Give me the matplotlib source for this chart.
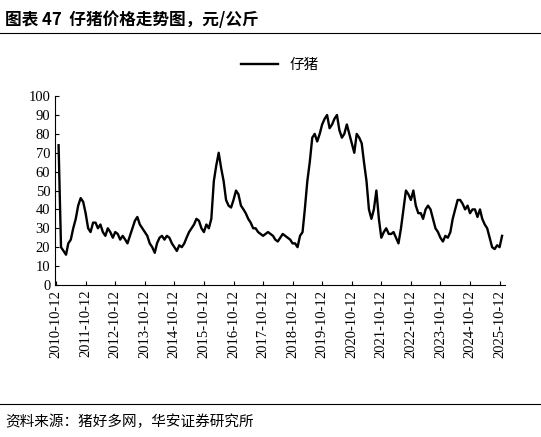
import numpy as np
import pandas as pd
import matplotlib
matplotlib.use('Agg')
import matplotlib.pyplot as plt

plt.rcParams['font.family'] = ['Noto Sans CJK SC', 'DejaVu Sans']

# monthly piglet price, yuan/kg, from 2010-10
price = [74, 20, 18, 16, 22, 24,
         30, 35, 42, 46, 44, 38, 30, 28, 33,
         33, 30, 32, 28, 26, 30, 28, 25, 28, 27, 24, 26,
         24, 22, 26, 30, 34, 36, 32, 30, 28, 26, 22, 20,
         17, 22, 25, 26, 24, 26, 25, 22, 20, 18, 21, 20,
         22, 25, 28, 30, 32, 35, 34, 30, 28, 32, 30, 35,
         55, 63, 70, 62, 55, 45, 42, 41, 45, 50, 48, 42,
         40, 38, 35, 33, 30, 30, 28, 27, 26, 27, 28, 27,
         26, 24, 23, 25, 27, 26, 25, 24, 22, 22, 20, 26,
         28, 40, 55, 65, 78, 80, 76, 80, 85, 88, 90, 83,
         85, 88, 90, 82, 78, 80, 85, 80, 75, 70, 80, 78,
         75, 65, 55, 40, 35, 40, 50, 35, 25, 28, 30, 27,
         27, 28, 25, 22, 30, 40, 50, 48, 45, 50, 42, 38,
         38, 35, 40, 42, 40, 35, 30, 28, 25, 23, 26, 25,
         28, 35, 40, 45, 45, 43, 40, 42, 38, 40, 40, 36,
         40, 35, 32, 30, 25, 20, 19, 21, 20, 26]
dates = pd.date_range('2010-10-12', periods=len(price), freq='MS') + pd.Timedelta(days=11)
tick_dates = pd.to_datetime([f'{y}-10-12' for y in range(2010, 2026)])

fig = plt.figure(figsize=(5.41, 4.37), dpi=100)
ax = fig.add_axes([0.102, 0.348, 0.831, 0.432])
ax.plot(dates, price, color='black', lw=1.7, label='仔猪')
ax.set_ylim(0, 100)
ax.set_yticks(range(0, 101, 10))
ax.set_xlim(pd.Timestamp('2010-10-01'), pd.Timestamp('2025-12-15'))
ax.set_xticks(tick_dates)
ax.set_xticklabels([d.strftime('%Y-%m-%d') for d in tick_dates], rotation=90,
                   family='Liberation Serif', fontsize=10.5)
for t in ax.get_yticklabels():
    t.set_family('Liberation Serif')
    t.set_fontsize(10.5)
for s in ['top', 'right']:
    ax.spines[s].set_visible(False)
ax.tick_params(direction='in', length=3)
ax.legend(loc='lower center', bbox_to_anchor=(0.5, 1.06), frameon=False, fontsize=10.5,
          handlelength=2.5)

fig.text(0.01, 0.955, '图表 47  仔猪价格走势图，元/公斤', fontsize=12, fontweight='bold', va='center')
fig.add_artist(plt.Line2D([0.0, 1.0], [0.925, 0.925], color='black', lw=0.8))
fig.add_artist(plt.Line2D([0.0, 1.0], [0.075, 0.075], color='black', lw=0.8))
fig.text(0.01, 0.035, '资料来源：猪好多网，华安证券研究所', fontsize=10.5, va='center')

fig.savefig('out.png', dpi=100)
